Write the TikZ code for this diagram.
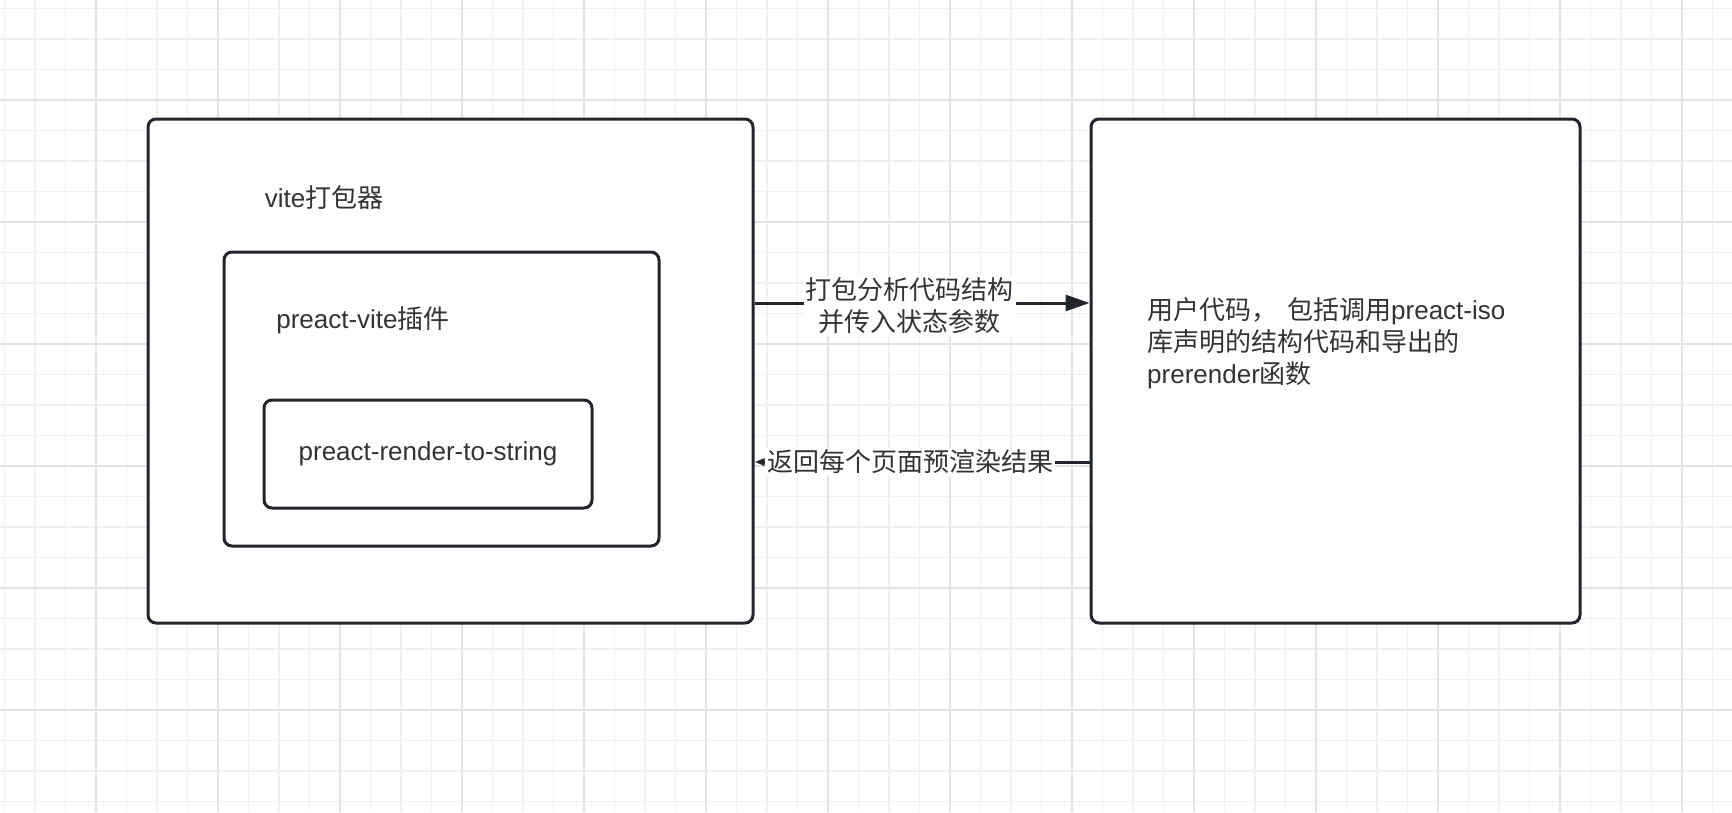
\documentclass[tikz,border=0pt]{standalone}
\usepackage{fontspec}
\setmainfont{Liberation Sans}
\newfontfamily\cjk{Noto Sans CJK SC}
\usetikzlibrary{arrows.meta}
\definecolor{stroke}{HTML}{22262C}
\definecolor{txt}{HTML}{333333}
\definecolor{gminor}{HTML}{F0F0F0}
\definecolor{gmajor}{HTML}{E3E3E3}
\begin{document}
\begin{tikzpicture}[x=1pt,y=-1pt,
  box/.style={draw=stroke, line width=3pt, rounded corners=8pt, fill=white, inner sep=0pt},
  lbl/.style={text=txt, font=\fontsize{26pt}{30pt}\selectfont, inner sep=0pt},
  conn/.style={draw=stroke, line width=3pt},
  elbl/.style={lbl, fill=white, inner xsep=2pt, inner ysep=2pt, align=center},
  gline/.style={line width=1.6pt}
]
\fill[white] (0,0) rectangle (1732,812);
\useasboundingbox (0,0) rectangle (1732,812);
\foreach \i in {0,...,56} \draw[gminor, gline] ({4.5+30.5*\i},0) -- ({4.5+30.5*\i},812);
\foreach \i in {0,...,26} \draw[gminor, gline] (0,{8.5+30.5*\i}) -- (1732,{8.5+30.5*\i});
\foreach \i in {0,...,13} \draw[gmajor, gline] ({96+122*\i},0) -- ({96+122*\i},812);
\foreach \i in {0,...,5} \draw[gmajor, gline] (0,{100+122*\i}) -- (1732,{100+122*\i});

\node[box, minimum width=605pt, minimum height=504pt] (vite) at (450.5,371) {};
\node[box, minimum width=435pt, minimum height=294pt] (plugin) at (441.5,399) {};
\node[box, minimum width=328pt, minimum height=108pt] (rts) at (428,454) {};
\node[box, minimum width=489pt, minimum height=504pt] (user) at (1335.5,371) {};

\node[lbl] (vitelbl) at (324,198) {vite{\cjk 打包器}};
\node[lbl] (pluginlbl) at (363,320) {preact-vite{\cjk 插件}};
\node[lbl] (rtslbl) at (rts.center) {preact-render-to-string};
\node[lbl, anchor=west, align=left, font=\fontsize{26pt}{32pt}\selectfont] (userlbl) at (1147,343)
  {{\cjk 用户代码，}\hspace{10pt}{\cjk 包括调用}preact-iso\\{\cjk 库声明的结构代码和导出的}\\prerender{\cjk 函数}};

\coordinate (ya) at (0,303);
\coordinate (yb) at (0,462);
\draw[conn, -{Triangle[length=24pt,width=16pt]}] (vite.east |- ya) --
  node[elbl, pos=0.463, yshift=-3pt, font=\fontsize{26pt}{32pt}\selectfont] (la) {{\cjk 打包分析代码结构}\\{\cjk 并传入状态参数}} (user.west |- ya);
\draw[conn, -{Triangle[length=10pt,width=7pt]}] (user.west |- yb) --
  node[elbl, pos=0.535] (lb) {{\cjk 返回每个页面预渲染结果}} (vite.east |- yb);
\end{tikzpicture}
\end{document}
